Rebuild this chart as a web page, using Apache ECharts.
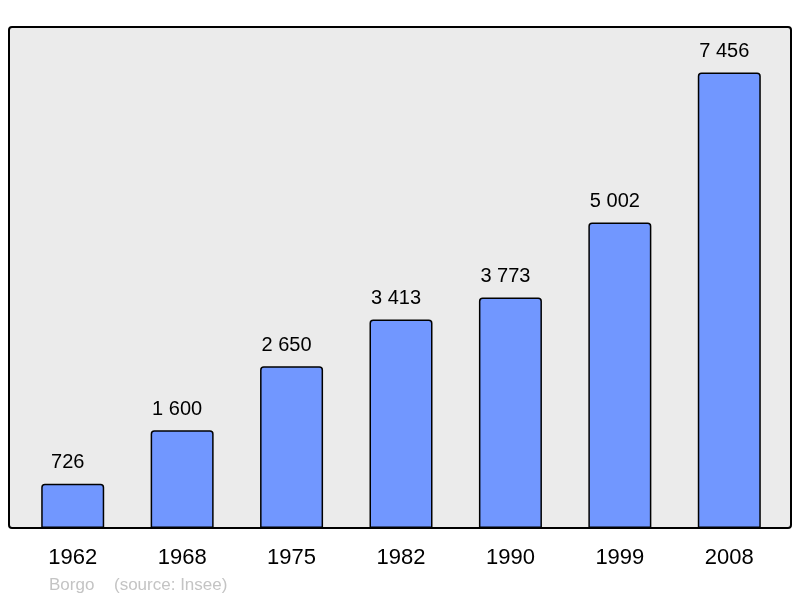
<!DOCTYPE html>
<html><head><meta charset="utf-8">
<script src="https://cdn.jsdelivr.net/npm/echarts@6/dist/echarts.min.js"></script>
<style>html,body{margin:0;padding:0;background:#fff}#c{width:800px;height:598px}</style>
</head><body><div id="c"></div>
<script>
var years = ['1962','1968','1975','1982','1990','1999','2008'];
var population = [726, 1600, 2650, 3413, 3773, 5002, 7456];
var yMax = 8202;
function fmt(v){return String(v).replace(/\B(?=(\d{3})+(?!\d))/g,' ');}
var chart = echarts.init(document.getElementById('c'), null, {renderer:'canvas'});
chart.setOption({
  animation:false,
  backgroundColor:'#ffffff',
  grid:{left:18, right:16, top:27, bottom:70, containLabel:false},
  graphic:[
    {type:'rect', z:-10, shape:{x:9, y:27, width:782, height:501, r:3},
     style:{fill:'#ebebeb', stroke:'#000', lineWidth:2}},
    {type:'text', left:49, top:577, style:{text:'Borgo', fill:'#c4c4c4', font:'17px "Liberation Sans", Arial, sans-serif'}},
    {type:'text', left:114, top:577, style:{text:'(source: Insee)', fill:'#c4c4c4', font:'17px "Liberation Sans", Arial, sans-serif'}}
  ],
  xAxis:{type:'category', data:years, axisLine:{show:false}, axisTick:{show:false},
    axisLabel:{color:'#000', fontSize:22, margin:19, fontFamily:'"Liberation Sans", Arial, sans-serif'}},
  yAxis:{type:'value', min:0, max:yMax, show:false, splitLine:{show:false}},
  series:[{type:'bar', data:population, barWidth:63,
    itemStyle:{color:'#7197ff', borderColor:'#000', borderWidth:1.5, borderRadius:[3,3,0,0]},
    label:{show:true, position:'top', distance:11, offset:[-5,0], color:'#000', fontSize:20,
      fontFamily:'"Liberation Sans", Arial, sans-serif', formatter:function(p){return fmt(p.value);}}
  }]
});
</script></body></html>
